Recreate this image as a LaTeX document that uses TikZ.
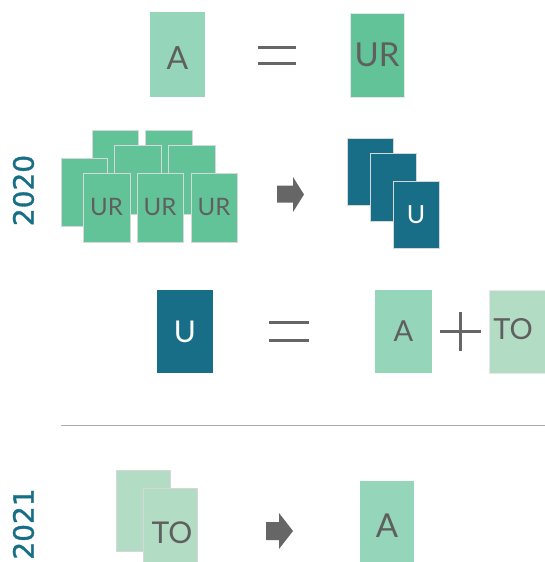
\documentclass[tikz,border=0pt]{standalone}
\usepackage{fontspec}
\setmainfont{Lato}
\newfontfamily\yearfont[FakeBold=1.2]{DejaVu Sans}
\definecolor{lightA}{HTML}{95D5B9}
\definecolor{urgreen}{HTML}{63C398}
\definecolor{teal}{HTML}{176E86}
\definecolor{togreen}{HTML}{B2DCC3}
\definecolor{txtgray}{HTML}{5F5F5F}
\definecolor{edgegray}{HTML}{D4D8D6}
\definecolor{arrowgray}{HTML}{666666}
\definecolor{rulegray}{HTML}{AAAAAA}
\tikzset{
  card/.style={rectangle, inner sep=0pt, outer sep=0pt, draw=edgegray, line width=0.8pt, text=txtgray},
  plain/.style={rectangle, inner sep=0pt, outer sep=0pt, text=txtgray},
  lbl/.style={inner sep=0pt, text=txtgray},
  year/.style={inner sep=0pt, text=teal, rotate=90, font=\yearfont\fontsize{28}{30}\selectfont},
  eqline/.style={line width=3pt, draw=arrowgray},
  blockarrow/.style={fill=arrowgray, draw=none}
}
\newcommand{\fs}[1]{\fontsize{#1}{#1}\selectfont}
\begin{document}
\begin{tikzpicture}[x=1pt,y=-1pt]
\useasboundingbox (0,0) rectangle (545,562);
\fill[white] (0,0) rectangle (545,562);

% Row 1: A = UR
\node[plain, fill=lightA, minimum width=55pt, minimum height=85pt] (A1) at (177.5,54.5) {};
\node[lbl, font=\fs{32}] (A1t) at (177.5,58) {A};
\coordinate (eq1a) at (258,47); \coordinate (eq1b) at (296,47);
\coordinate (eq1c) at (258,63); \coordinate (eq1d) at (296,63);
\draw[eqline] (eq1a) -- (eq1b); \draw[eqline] (eq1c) -- (eq1d);
\node[card, draw=edgegray!60, fill=urgreen, minimum width=54pt, minimum height=84pt, font=\fs{33}] (UR1) at (377,55) {UR};

% 2020 label
\node[year] (y2020) at (23.5,190.5) {2020};

% stack of UR cards
\node[card, fill=urgreen, minimum width=46pt, minimum height=69pt] (c1) at (115,164.5) {};
\node[card, fill=urgreen, minimum width=47pt, minimum height=69pt] (c2) at (168.5,164.5) {};
\node[card, fill=urgreen, minimum width=46pt, minimum height=68pt] (c0) at (84,192) {};
\node[card, fill=urgreen, minimum width=47pt, minimum height=69pt] (c3) at (137.5,179.5) {};
\node[card, fill=urgreen, minimum width=47pt, minimum height=69pt] (c4) at (191.5,179.5) {};
\node[card, fill=urgreen, minimum width=47pt, minimum height=69pt, font=\fs{24}] (f1) at (106.5,207.5) {UR};
\node[card, fill=urgreen, minimum width=46pt, minimum height=69pt, font=\fs{24}] (f2) at (160,207.5) {UR};
\node[card, fill=urgreen, minimum width=46pt, minimum height=69pt, font=\fs{24}] (f3) at (214,207.5) {UR};

% arrow 1
\fill[blockarrow] (277,185.5) -- (293,185.5) -- (293,177) -- (304,194.5) -- (293,212) -- (293,202.5) -- (277,202.5) -- cycle;

% teal U stack
\node[card, fill=teal, minimum width=46pt, minimum height=67pt] (t1) at (370,171.5) {};
\node[card, fill=teal, minimum width=46pt, minimum height=68pt] (t2) at (393,187) {};
\node[card, fill=teal, text=white, minimum width=46pt, minimum height=67pt, font=\fs{25}] (t3) at (416,214.5) {U};

% Row 3: U = A + TO
\node[plain, fill=teal, text=white, minimum width=56pt, minimum height=83pt, font=\fs{30}] (U2) at (185,331.5) {U};
\coordinate (eq2a) at (269,322); \coordinate (eq2b) at (309,322);
\coordinate (eq2c) at (269,340); \coordinate (eq2d) at (309,340);
\draw[eqline] (eq2a) -- (eq2b); \draw[eqline] (eq2c) -- (eq2d);
\node[plain, fill=lightA, minimum width=57pt, minimum height=83pt, font=\fs{29}] (A2) at (403.5,331.5) {A};
\coordinate (pl1) at (440,331); \coordinate (pl2) at (481,331);
\coordinate (pl3) at (460,312); \coordinate (pl4) at (460,351);
\draw[eqline] (pl1) -- (pl2); \draw[eqline] (pl3) -- (pl4);
\node[card, draw=edgegray!60, fill=togreen, minimum width=57pt, minimum height=83pt] (TO2) at (517.5,331.5) {};
\node[lbl, font=\fs{29}] (TO2t) at (513,329) {TO};

% separator
\coordinate (sepL) at (61,425); \coordinate (sepR) at (545,425);
\draw[rulegray, line width=1pt] (sepL) -- (sepR);

% 2021 label
\node[year] (y2021) at (23.5,524) {2021};

% TO stack
\node[card, fill=togreen, minimum width=54pt, minimum height=81pt] (to1) at (143,510.5) {};
\node[card, fill=togreen, minimum width=54pt, minimum height=81pt] (to2) at (170,528.5) {};
\node[lbl, font=\fs{30}] (to2t) at (172,533) {TO};

% arrow 2
\fill[blockarrow] (266,522) -- (279,522) -- (279,513) -- (293,531) -- (279,549) -- (279,540) -- (266,540) -- cycle;

% A result
\node[plain, fill=lightA, minimum width=54pt, minimum height=83pt] (A3) at (387,522.5) {};
\node[lbl, font=\fs{33}] (A3t) at (387,526) {A};
\end{tikzpicture}
\end{document}
